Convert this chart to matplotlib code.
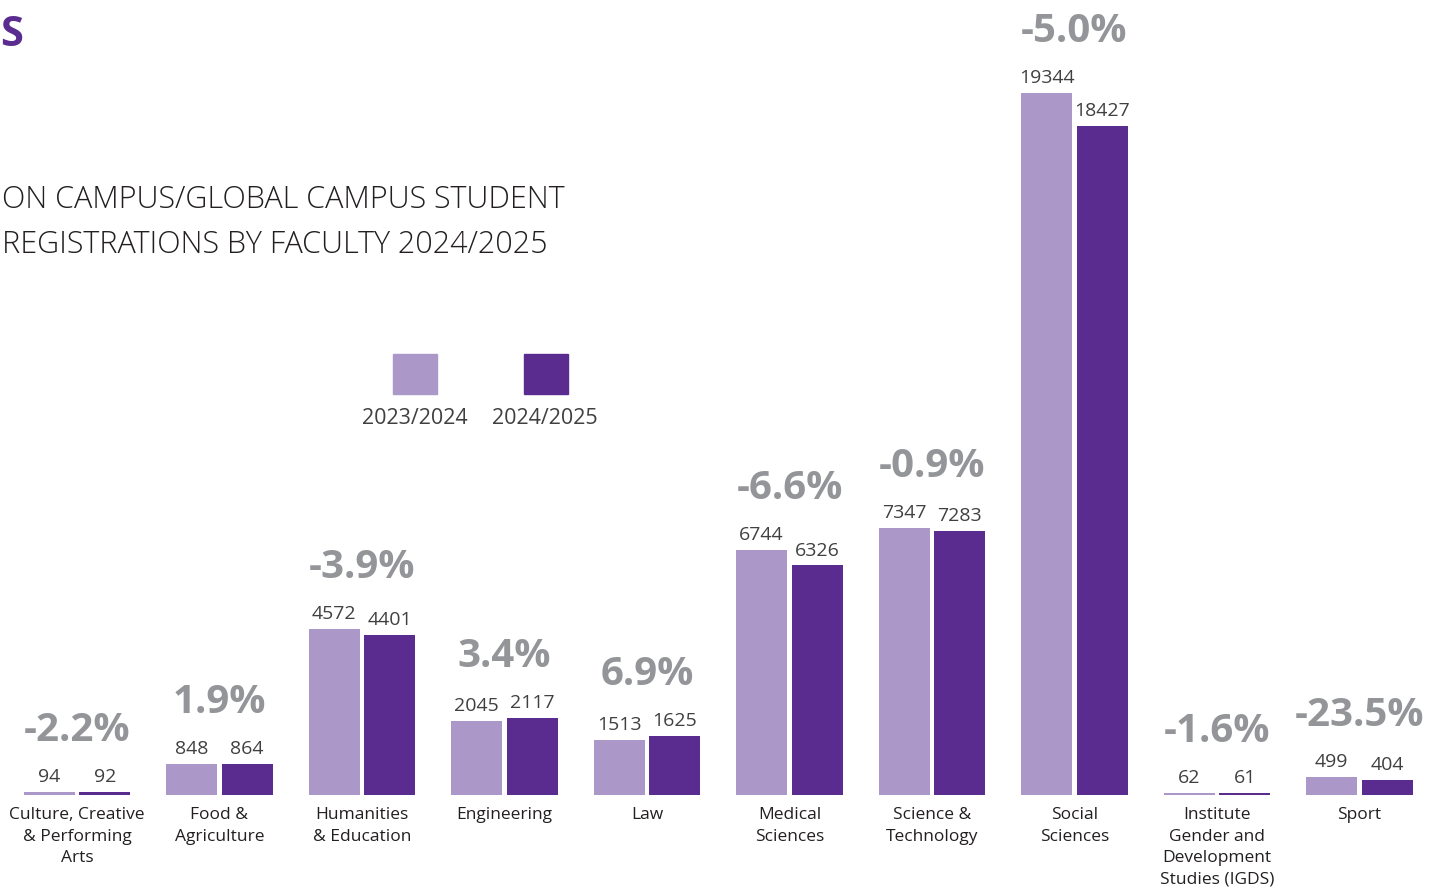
import matplotlib.pyplot as plt
import numpy as np

# data
faculties = ["Culture, Creative\n& Performing\nArts", "Food &\nAgriculture", "Humanities\n& Education",
             "Engineering", "Law", "Medical\nSciences", "Science &\nTechnology", "Social\nSciences",
             "Institute\nGender and\nDevelopment\nStudies (IGDS)", "Sport"]
reg_2023_24 = [94, 848, 4572, 2045, 1513, 6744, 7347, 19344, 62, 499]
reg_2024_25 = [92, 864, 4401, 2117, 1625, 6326, 7283, 18427, 61, 404]
pct_change = ["-2.2%", "1.9%", "-3.9%", "3.4%", "6.9%", "-6.6%", "-0.9%", "-5.0%", "-1.6%", "-23.5%"]
series_labels = ["2023/2024", "2024/2025"]

LIGHT = "#ab98c8"
DARK = "#5b2c8f"
GREY = "#939598"
TXT = "#404040"

plt.rcParams['font.family'] = ['Open Sans', 'DejaVu Sans']

fig = plt.figure(figsize=(14.37, 8.95), dpi=100)
ax = fig.add_axes([0, 0, 1, 1])
ax.set_xlim(-0.540, 9.544)
ax.set_ylim(-2728, 21937)
ax.axis("off")

x = np.arange(len(faculties))
w = 0.36
off = 0.195
a = np.array(reg_2023_24)
b = np.array(reg_2024_25)
ax.bar(x - off, a, w, color=LIGHT)
ax.bar(x + off, b, w, color=DARK)

for i in range(len(x)):
    ax.annotate(str(a[i]), (x[i] - off, a[i]), xytext=(0, 5), textcoords="offset points",
                ha="center", va="bottom", fontsize=14, color=TXT)
    ax.annotate(str(b[i]), (x[i] + off, b[i]), xytext=(0, 5), textcoords="offset points",
                ha="center", va="bottom", fontsize=14, color=TXT)
    ax.annotate(pct_change[i], (x[i], max(a[i], b[i])), xytext=(0, 31), textcoords="offset points",
                ha="center", va="bottom", fontsize=29, fontweight="bold", color=GREY)
    ax.annotate(faculties[i], (x[i], 0), xytext=(0, -8), textcoords="offset points",
                ha="center", va="top", fontsize=12.5, color="#231f20", linespacing=1.45)

# legend
fig.patches.append(plt.Rectangle((393 / 1437, 1 - 395 / 895), 44 / 1437, 40 / 895,
                                 transform=fig.transFigure, color=LIGHT))
fig.patches.append(plt.Rectangle((524 / 1437, 1 - 395 / 895), 44 / 1437, 40 / 895,
                                 transform=fig.transFigure, color=DARK))
fig.text(415 / 1437, 1 - 419 / 895, series_labels[0], ha="center", va="center", fontsize=15.5, color=TXT)
fig.text(545 / 1437, 1 - 419 / 895, series_labels[1], ha="center", va="center", fontsize=15.5, color=TXT)

# title
fig.text(2 / 1437, 1 - 200 / 895, "ON CAMPUS/GLOBAL CAMPUS STUDENT", ha="left", va="center",
         fontsize=22, fontweight="light", color="#231f20")
fig.text(2 / 1437, 1 - 245 / 895, "REGISTRATIONS BY FACULTY 2024/2025", ha="left", va="center",
         fontsize=22, fontweight="light", color="#231f20")
fig.text(0, 1 - 35 / 895, "S", ha="left", va="center", fontsize=30, fontweight="bold", color=DARK)

fig.savefig("out.png", dpi=100)
